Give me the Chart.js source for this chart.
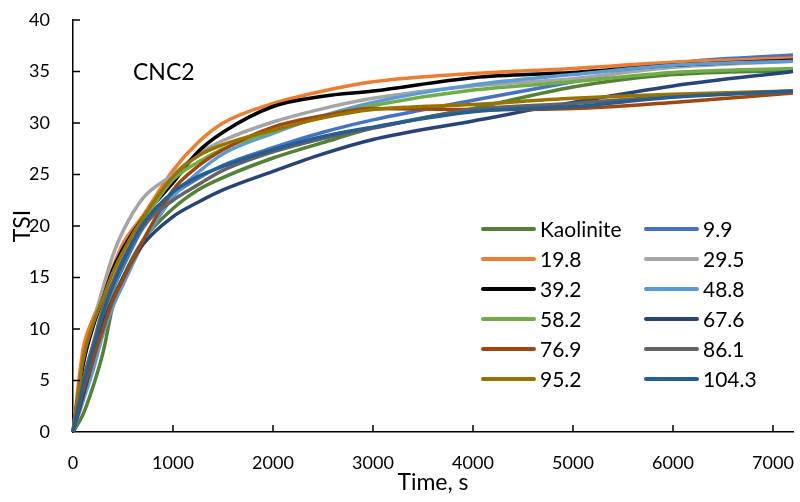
<!DOCTYPE html>
<html>
<head>
<meta charset="utf-8">
<script src="https://cdn.jsdelivr.net/npm/chart.js@4.4.1/dist/chart.umd.min.js"></script>
<style>
    html, body { margin: 0; padding: 0; background: #fff; }
    canvas { display: block; }
</style>
</head>
<body>
<canvas id="chart" width="800" height="502"></canvas>
<script>
// time points (s) and TSI readings for each sample
const times = [0, 100, 200, 300, 400, 500, 700, 1000, 1250, 1500, 2000, 2500, 3000, 4000, 5000, 6000, 7200];

const kaolinite = [0, 1.7, 4.4, 7.7, 12.3, 15.0, 18.6, 21.7, 23.5, 24.7, 26.6, 28.1, 29.5, 31.4, 33.5, 34.7, 35.1];
const s9_9   = [0, 4.0, 7.5, 11.0, 13.8, 16.0, 19.8, 23.0, 24.6, 25.9, 27.6, 29.1, 30.3, 32.2, 34.0, 35.8, 36.6];
const s19_8  = [0, 8.0, 11.0, 13.3, 16.0, 18.3, 21.0, 25.4, 28.1, 30.0, 31.9, 33.1, 34.0, 34.8, 35.3, 35.9, 36.3];
const s29_5  = [0, 6.5, 10.5, 14.0, 17.2, 19.5, 22.7, 25.0, 27.0, 28.3, 30.1, 31.4, 32.4, 33.6, 34.3, 35.4, 36.0];
const s39_2  = [0, 6.5, 10.2, 13.0, 15.8, 17.8, 20.8, 24.2, 27.2, 29.1, 31.6, 32.6, 33.1, 34.4, 34.9, 35.6, 36.1];
const s48_8  = [0, 3.0, 6.0, 9.5, 12.2, 14.3, 18.3, 22.8, 25.2, 27.0, 29.0, 30.7, 32.0, 33.7, 34.7, 35.6, 36.0];
const s58_2  = [0, 4.5, 8.0, 11.0, 14.0, 16.5, 20.3, 24.5, 26.2, 27.5, 29.2, 30.6, 31.7, 33.2, 34.0, 34.9, 35.3];
const s67_6  = [0, 3.5, 7.0, 10.5, 13.0, 15.0, 18.2, 20.9, 22.3, 23.5, 25.3, 27.0, 28.4, 30.2, 32.0, 33.6, 35.0];
const s76_9  = [0, 4.0, 7.0, 10.0, 12.8, 14.8, 18.6, 23.5, 25.8, 27.4, 29.6, 30.7, 31.4, 31.3, 31.4, 32.0, 32.9];
const s86_1  = [0, 5.0, 8.5, 12.0, 14.6, 16.8, 20.0, 22.5, 24.0, 25.4, 27.2, 28.5, 29.5, 31.3, 31.9, 32.6, 33.1];
const s95_2  = [0, 7.0, 10.5, 13.0, 15.5, 17.5, 20.8, 24.8, 26.8, 27.9, 29.3, 30.5, 31.3, 31.8, 32.4, 32.8, 33.1];
const s104_3 = [0, 4.5, 8.0, 11.5, 14.2, 16.5, 20.2, 23.3, 24.8, 25.8, 27.4, 28.7, 29.6, 31.1, 31.6, 32.5, 33.1];

const seriesNames = ['Kaolinite', '9.9', '19.8', '29.5', '39.2', '48.8', '58.2', '67.6', '76.9', '86.1', '95.2', '104.3'];
const seriesValues = [kaolinite, s9_9, s19_8, s29_5, s39_2, s48_8, s58_2, s67_6, s76_9, s86_1, s95_2, s104_3];
const seriesColors = ['#548235', '#4472C4', '#ED7D31', '#A5A5A5', '#000000', '#5B9BD5',
    '#70AD47', '#264478', '#9E480E', '#636363', '#997300', '#255E91'];

const xTicks = [0, 1000, 2000, 3000, 4000, 5000, 6000, 7000];
const yTicks = [0, 5, 10, 15, 20, 25, 30, 35, 40];

const FONT = 'Lato, "Open Sans", sans-serif';

// Excel style tick marks pointing into the plot
const innerTicks = {
    id: 'innerTicks',
    afterDatasetsDraw(chart) {
        const {ctx, chartArea, scales} = chart;
        ctx.save();
        ctx.strokeStyle = '#000';
        ctx.lineWidth = 1.5;
        ctx.beginPath();
        xTicks.forEach(v => {
            if (v === 0) return;
            const px = scales.x.getPixelForValue(v);
            ctx.moveTo(px, chartArea.bottom);
            ctx.lineTo(px, chartArea.bottom - 7);
        });
        yTicks.forEach(v => {
            if (v === 0) return;
            const py = scales.y.getPixelForValue(v);
            ctx.moveTo(chartArea.left, py);
            ctx.lineTo(chartArea.left + 7, py);
        });
        ctx.stroke();
        ctx.restore();
    }
};

// two-column legend inside the plot plus the CNC2 label
const boxLegend = {
    id: 'boxLegend',
    afterDraw(chart) {
        const ctx = chart.ctx;
        ctx.save();
        ctx.font = '23px ' + FONT;
        ctx.fillStyle = '#000';
        ctx.textBaseline = 'alphabetic';
        ctx.fillText('CNC2', 133, 80);

        ctx.font = '21px ' + FONT;
        ctx.textBaseline = 'middle';
        chart.data.datasets.forEach((ds, i) => {
            const x0 = i % 2 === 0 ? 483 : 646;
            const y = 229 + Math.floor(i / 2) * 30;
            ctx.strokeStyle = ds.borderColor;
            ctx.lineWidth = 4;
            ctx.lineCap = 'round';
            ctx.beginPath();
            ctx.moveTo(x0, y);
            ctx.lineTo(x0 + 51, y);
            ctx.stroke();
            ctx.fillStyle = '#000';
            ctx.fillText(ds.label, x0 + 57, y + 1);
        });
        ctx.restore();
    }
};

const datasets = seriesNames.map((name, i) => ({
    label: name,
    data: times.map((t, j) => ({x: t, y: seriesValues[i][j]})),
    borderColor: seriesColors[i],
    backgroundColor: seriesColors[i],
    borderWidth: 3.5,
    pointRadius: 0,
    fill: false,
    cubicInterpolationMode: 'monotone',
    clip: 5,
    order: -i
}));

new Chart(document.getElementById('chart'), {
    type: 'line',
    data: {datasets},
    options: {
        responsive: false,
        animation: false,
        layout: {autoPadding: false, padding: {left: 4, right: 7, top: 20, bottom: 2}},
        plugins: {legend: {display: false}, tooltip: {enabled: false}},
        scales: {
            x: {
                type: 'linear',
                min: 0,
                max: 7200,
                afterFit(scale) {
                    scale.height = 502 - 2 - 432;
                    scale.paddingLeft = 0;
                    scale.paddingRight = 0;
                },
                afterBuildTicks(scale) { scale.ticks = xTicks.map(v => ({value: v})); },
                ticks: {
                    includeBounds: false,
                    padding: 20,
                    color: '#000',
                    font: {family: FONT, size: 18},
                    maxRotation: 0,
                    callback: v => String(v)
                },
                grid: {drawOnChartArea: false, drawTicks: false},
                border: {color: '#000', width: 1.5},
                title: {
                    display: true,
                    text: 'Time, s',
                    color: '#000',
                    font: {family: FONT, size: 23},
                    padding: {top: 0, bottom: 4}
                }
            },
            y: {
                min: 0,
                max: 40,
                afterFit(scale) {
                    scale.width = 73 - 4;
                    scale.paddingTop = 0;
                    scale.paddingBottom = 0;
                },
                afterBuildTicks(scale) { scale.ticks = yTicks.map(v => ({value: v})); },
                ticks: {
                    padding: 23,
                    color: '#000',
                    font: {family: FONT, size: 18},
                    callback: v => String(v)
                },
                grid: {drawOnChartArea: false, drawTicks: false},
                border: {color: '#000', width: 1.5},
                title: {
                    display: true,
                    text: 'TSI',
                    color: '#000',
                    font: {family: FONT, size: 23},
                    padding: {top: 5, bottom: 0}
                }
            }
        }
    },
    plugins: [innerTicks, boxLegend]
});
</script>
</body>
</html>
